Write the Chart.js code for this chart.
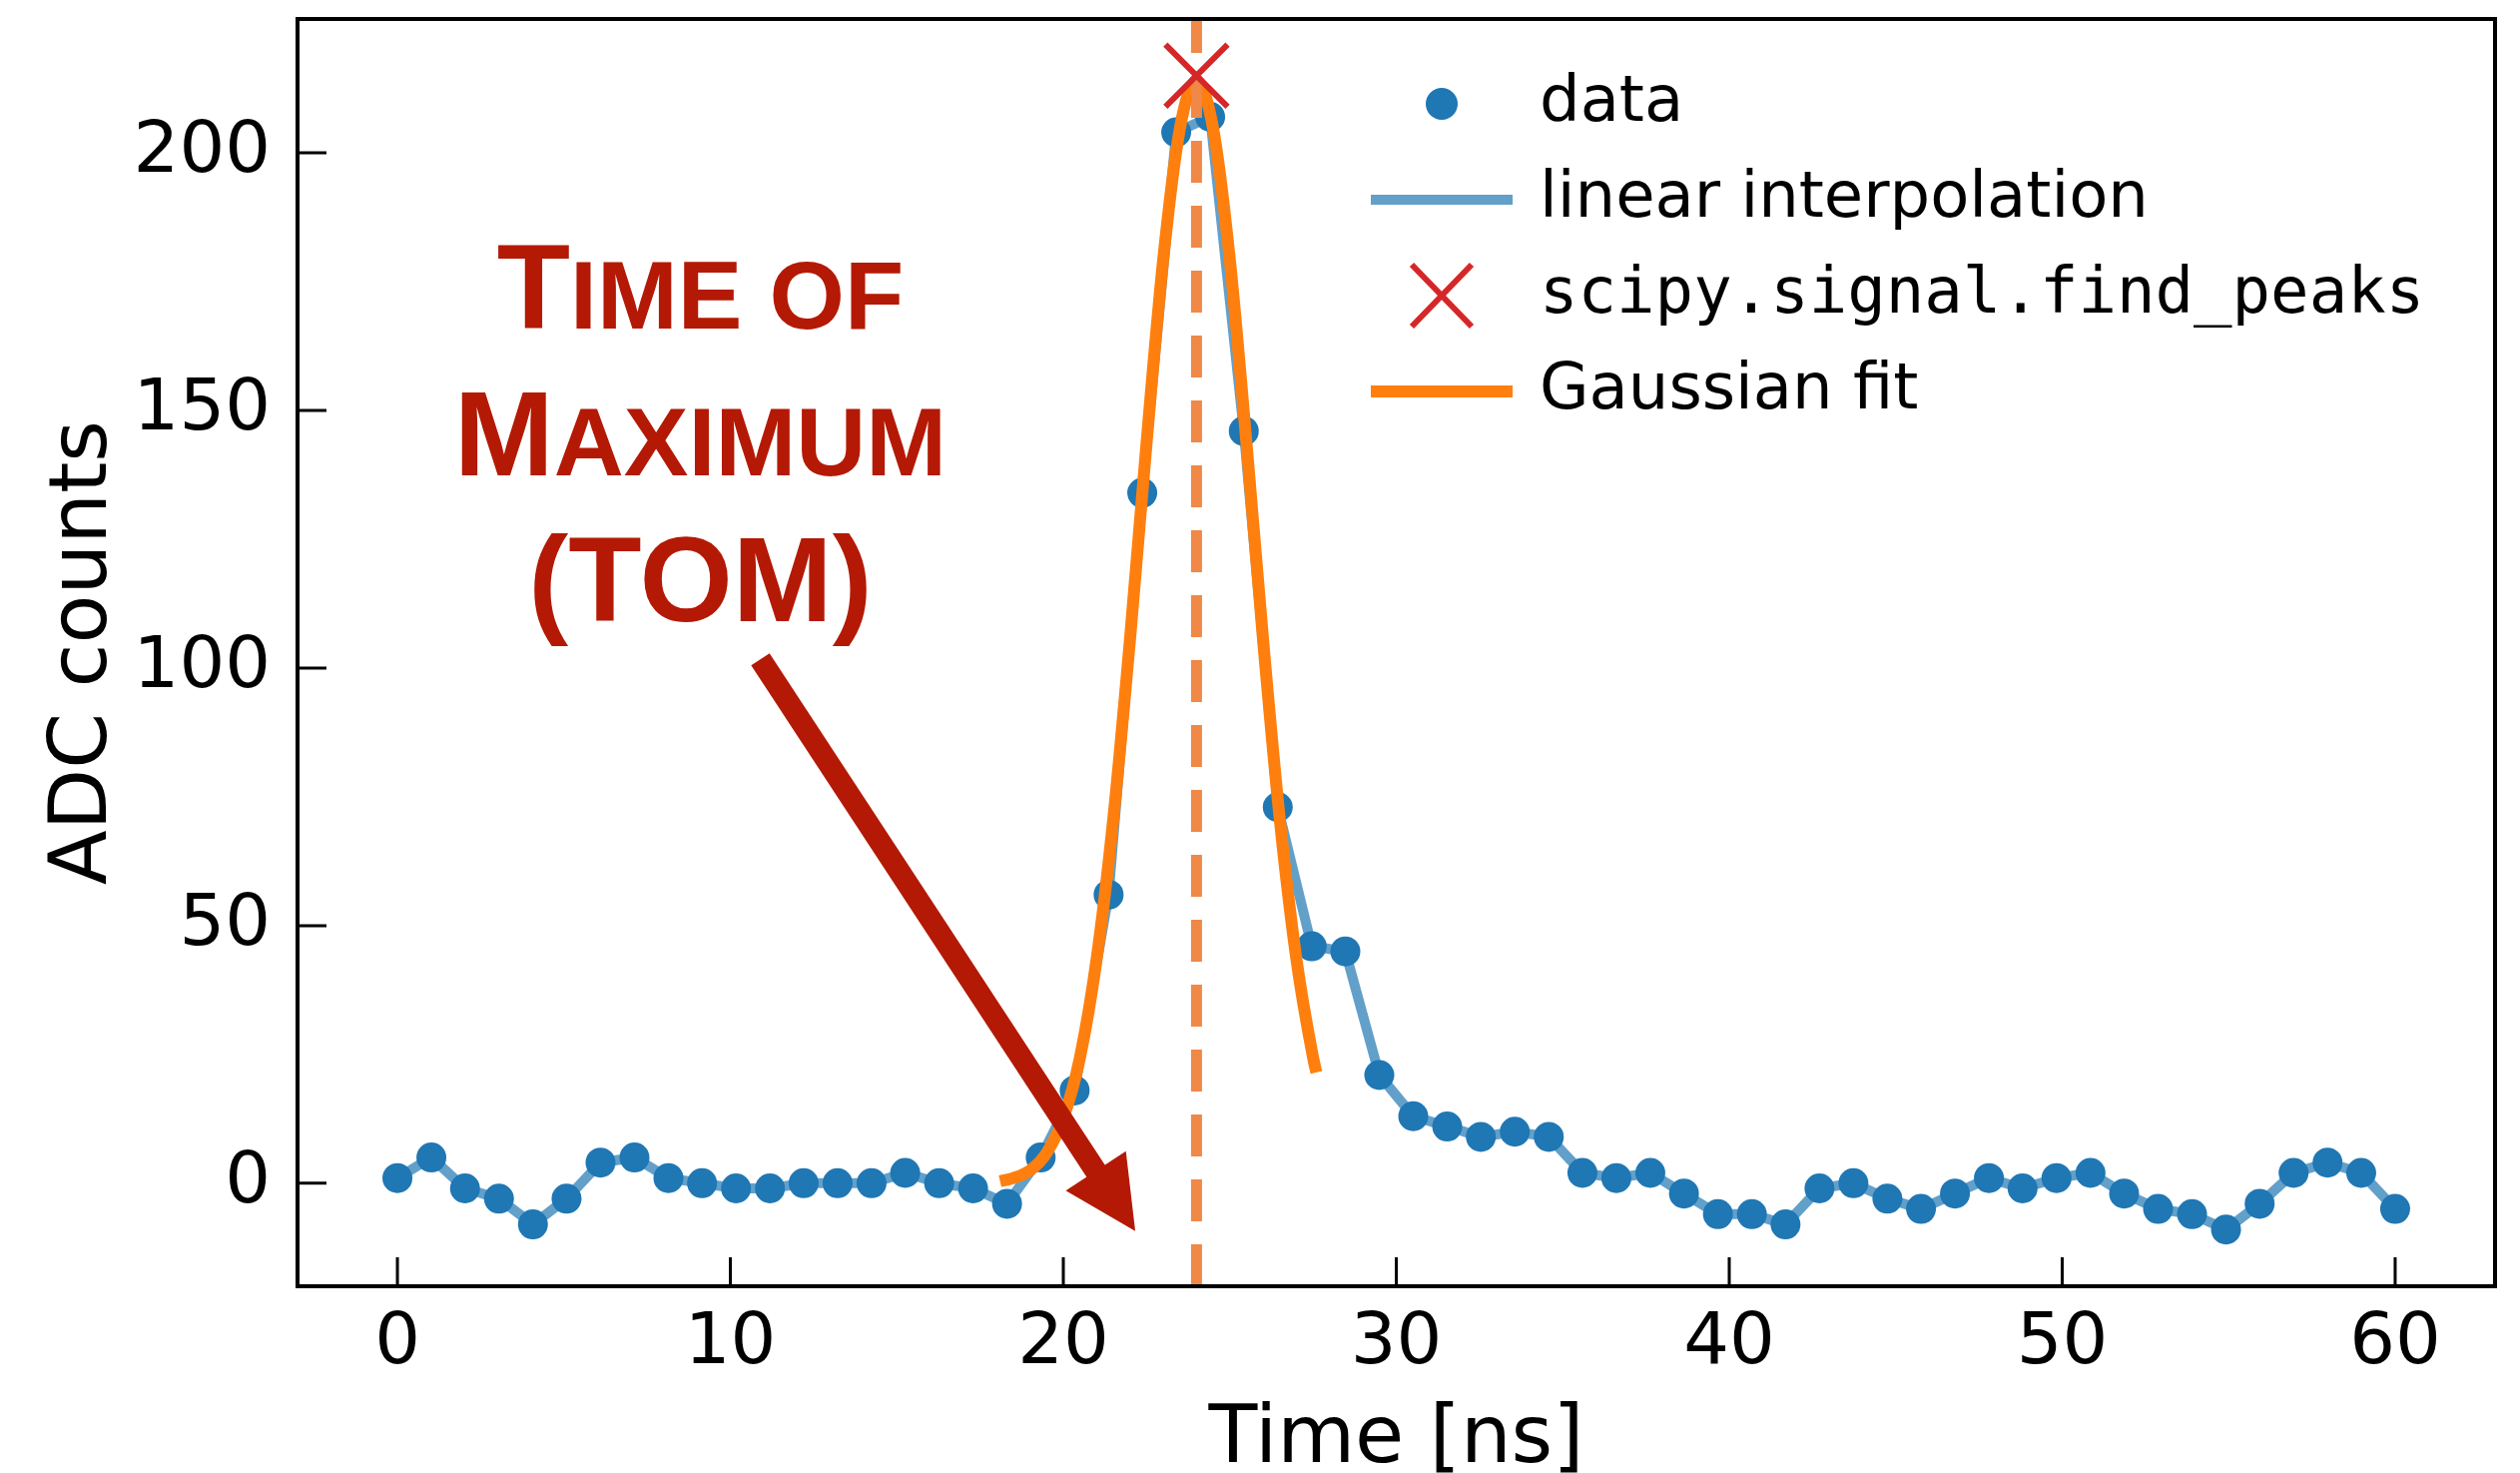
<!DOCTYPE html>
<html>
<head>
<meta charset="utf-8">
<title>Time of Maximum</title>
<script src="https://cdn.jsdelivr.net/npm/chart.js@4.4.1/dist/chart.umd.min.js"></script>
<style>
  html, body { margin: 0; padding: 0; background: #fff; }
  #wrap { width: 2524px; height: 1475px; position: relative; }
</style>
</head>
<body>
<div id="wrap"><canvas id="tomChart"></canvas></div>
<script>
// waveform samples (60 samples over 60 ns)
const sampleTimes = [0, 1.02, 2.03, 3.05, 4.07, 5.08, 6.10, 7.12, 8.14, 9.15,
  10.17, 11.19, 12.20, 13.22, 14.24, 15.25, 16.27, 17.29, 18.31, 19.32,
  20.34, 21.36, 22.37, 23.39, 24.41, 25.42, 26.44, 27.46, 28.47, 29.49,
  30.51, 31.53, 32.54, 33.56, 34.58, 35.59, 36.61, 37.63, 38.64, 39.66,
  40.68, 41.69, 42.71, 43.73, 44.75, 45.76, 46.78, 47.80, 48.81, 49.83,
  50.85, 51.86, 52.88, 53.90, 54.92, 55.93, 56.95, 57.97, 58.98, 60];
const adcCounts = [1, 5, -1, -3, -8, -3, 4, 5, 1, 0,
  -1, -1, 0, 0, 0, 2, 0, -1, -4, 5,
  18, 56, 134, 204, 207, 146, 73, 46, 45, 21,
  13, 11, 9, 10, 9, 2, 1, 2, -2, -6,
  -6, -8, -1, 0, -3, -5, -2, 1, -1, 1,
  2, -2, -5, -6, -9, -4, 2, 4, 2, -5];

// gaussian fit curve around the pulse
const fitTimes = [18.1, 18.5, 19.0, 19.5, 20.0, 20.5, 21.0, 21.5, 22.0, 22.5, 23.0,
  23.5, 24.0, 24.5, 25.0, 25.5, 26.0, 26.5, 27.0, 27.5, 27.6];
const fitCounts = [0.4, 1.0, 2.5, 5.9, 12.6, 24.4, 43.5, 70.7, 105.4, 143.7, 179.3,
  204.7, 214.0, 204.7, 179.3, 143.7, 105.4, 70.7, 43.5, 24.4, 21.5];

// peak found by find_peaks
const peakTime = 24.0;
const peakCounts = 215;

const xMin = -3, xMax = 63;
const yMin = -20, yMax = 226;
const xTickValues = [0, 10, 20, 30, 40, 50, 60];
const yTickValues = [0, 50, 100, 150, 200];

const legendLabels = ['data', 'linear interpolation', 'scipy.signal.find_peaks', 'Gaussian fit'];

// annotation text, each line split in [text, isCapital] runs
const noteLines = [
  [['T', true], ['IME OF', false]],
  [['M', true], ['AXIMUM', false]],
  [['(TOM)', true]]
];
const noteAnchorX = 9.1;
const noteBaselines = [165.9, 137.4, 109.1];
const arrowFrom = [10.9, 101.7];
const arrowTo = [22.16, -9.3];

const blue = '#1f77b4';
const blueLine = 'rgba(31,119,180,0.7)';
const orange = '#ff7f0e';
const tomDash = 'rgb(240,136,72)';
const red = '#d62728';
const noteRed = '#b41905';

const toPoints = (xs, ys) => xs.map((x, i) => ({ x: x, y: ys[i] }));

// frame + inward tick marks
const frameTicks = {
  id: 'frameTicks',
  afterDatasetsDraw(chart) {
    const { ctx, chartArea: a, scales } = chart;
    ctx.save();
    ctx.strokeStyle = '#000';
    ctx.lineWidth = 3;
    ctx.beginPath();
    xTickValues.forEach((v) => {
      const px = scales.x.getPixelForValue(v);
      ctx.moveTo(px, a.bottom);
      ctx.lineTo(px, a.bottom - 29);
    });
    yTickValues.forEach((v) => {
      const py = scales.y.getPixelForValue(v);
      ctx.moveTo(a.left, py);
      ctx.lineTo(a.left + 29, py);
    });
    ctx.stroke();
    ctx.lineWidth = 4;
    ctx.strokeRect(a.left, a.top, a.right - a.left, a.bottom - a.top);
    ctx.restore();
  }
};

// legend in the upper right, one entry per row
const sideLegend = {
  id: 'sideLegend',
  afterDraw(chart) {
    const { ctx, chartArea: a } = chart;
    const hx = a.right - 1055;
    const tx = a.right - 957;
    const rowY = (i) => a.top + 85 + i * 96;
    ctx.save();

    ctx.fillStyle = blue;
    ctx.beginPath();
    ctx.arc(hx, rowY(0), 16, 0, Math.PI * 2);
    ctx.fill();

    ctx.lineCap = 'butt';
    ctx.strokeStyle = blueLine;
    ctx.lineWidth = 10;
    ctx.beginPath();
    ctx.moveTo(hx - 71, rowY(1));
    ctx.lineTo(hx + 71, rowY(1));
    ctx.stroke();

    ctx.strokeStyle = red;
    ctx.lineWidth = 6;
    ctx.beginPath();
    ctx.moveTo(hx - 30, rowY(2) - 31);
    ctx.lineTo(hx + 30, rowY(2) + 31);
    ctx.moveTo(hx + 30, rowY(2) - 31);
    ctx.lineTo(hx - 30, rowY(2) + 31);
    ctx.stroke();

    ctx.strokeStyle = orange;
    ctx.lineWidth = 12;
    ctx.beginPath();
    ctx.moveTo(hx - 71, rowY(3));
    ctx.lineTo(hx + 71, rowY(3));
    ctx.stroke();

    ctx.fillStyle = '#000';
    ctx.textBaseline = 'middle';
    ctx.textAlign = 'left';
    legendLabels.forEach((txt, i) => {
      ctx.font = i === 2 ? '64px "DejaVu Sans Mono"' : '64px "DejaVu Sans"';
      ctx.fillText(txt, tx, rowY(i));
    });
    ctx.restore();
  }
};

// small-caps note and arrow pointing at the pulse
const tomNote = {
  id: 'tomNote',
  afterDraw(chart) {
    const { ctx, scales } = chart;
    const xs = scales.x, ys = scales.y;
    ctx.save();
    ctx.fillStyle = noteRed;
    ctx.textBaseline = 'alphabetic';
    ctx.textAlign = 'left';
    const cx = xs.getPixelForValue(noteAnchorX);
    noteLines.forEach((runs, i) => {
      const fonts = runs.map((r) => 'bold ' + (r[1] ? 120 : 97) + 'px "Liberation Sans"');
      let total = 0;
      const widths = runs.map((r, k) => {
        ctx.font = fonts[k];
        const w = ctx.measureText(r[0]).width;
        total += w;
        return w;
      });
      let x = cx - total / 2;
      const y = ys.getPixelForValue(noteBaselines[i]);
      runs.forEach((r, k) => {
        ctx.font = fonts[k];
        ctx.fillText(r[0], x, y);
        x += widths[k];
      });
    });

    const x0 = xs.getPixelForValue(arrowFrom[0]), y0 = ys.getPixelForValue(arrowFrom[1]);
    const x1 = xs.getPixelForValue(arrowTo[0]), y1 = ys.getPixelForValue(arrowTo[1]);
    const ang = Math.atan2(y1 - y0, x1 - x0);
    const c = Math.cos(ang), s = Math.sin(ang);
    const headLen = 72, headHalf = 36;
    const bx = x1 - headLen * c, by = y1 - headLen * s;
    ctx.strokeStyle = noteRed;
    ctx.lineWidth = 22;
    ctx.lineCap = 'butt';
    ctx.beginPath();
    ctx.moveTo(x0, y0);
    ctx.lineTo(bx + 4 * c, by + 4 * s);
    ctx.stroke();
    ctx.beginPath();
    ctx.moveTo(x1, y1);
    ctx.lineTo(bx - headHalf * s, by + headHalf * c);
    ctx.lineTo(bx + headHalf * s, by - headHalf * c);
    ctx.closePath();
    ctx.fill();
    ctx.restore();
  }
};

const ctx = document.getElementById('tomChart').getContext('2d');
const tomChart = new Chart(ctx, {
  type: 'scatter',
  data: {
    datasets: [
      {
        label: 'scipy.signal.find_peaks',
        data: [{ x: peakTime, y: peakCounts }],
        pointStyle: 'crossRot',
        pointRadius: 44,
        pointBorderWidth: 6,
        borderColor: red,
        backgroundColor: red,
        showLine: false,
        order: 0
      },
      {
        label: 'TOM',
        data: [{ x: peakTime, y: yMin }, { x: peakTime, y: yMax }],
        showLine: true,
        borderColor: tomDash,
        borderWidth: 11,
        borderDash: [42, 23],
        pointRadius: 0,
        order: 1
      },
      {
        label: 'Gaussian fit',
        data: toPoints(fitTimes, fitCounts),
        showLine: true,
        borderColor: orange,
        borderWidth: 12,
        borderJoinStyle: 'round',
        cubicInterpolationMode: 'monotone',
        pointRadius: 0,
        order: 2
      },
      {
        label: 'data',
        data: toPoints(sampleTimes, adcCounts),
        showLine: false,
        pointRadius: 15,
        pointBorderWidth: 0,
        backgroundColor: blue,
        borderColor: blue,
        order: 3
      },
      {
        label: 'linear interpolation',
        data: toPoints(sampleTimes, adcCounts),
        showLine: true,
        borderColor: blueLine,
        borderWidth: 10,
        borderJoinStyle: 'round',
        borderCapStyle: 'round',
        pointRadius: 0,
        order: 4
      }
    ]
  },
  options: {
    responsive: true,
    maintainAspectRatio: false,
    animation: false,
    devicePixelRatio: 1,
    layout: { autoPadding: false, padding: { left: 0, top: 19, right: 25, bottom: 0 } },
    plugins: {
      legend: { display: false },
      tooltip: { enabled: false }
    },
    scales: {
      x: {
        type: 'linear',
        min: xMin,
        max: xMax,
        afterBuildTicks: (scale) => { scale.ticks = xTickValues.map((v) => ({ value: v })); },
        afterFit: (scale) => {
          scale.height = 187;
          scale.paddingLeft = 0;
          scale.paddingRight = 0;
        },
        grid: { display: false, drawTicks: false },
        border: { display: false },
        ticks: {
          color: '#000',
          padding: 15,
          maxRotation: 0,
          font: { family: 'DejaVu Sans', size: 72 }
        },
        title: {
          display: true,
          text: 'Time [ns]',
          color: '#000',
          padding: 0,
          font: { family: 'DejaVu Sans', size: 80, lineHeight: 0.8 }
        }
      },
      y: {
        type: 'linear',
        min: yMin,
        max: yMax,
        afterBuildTicks: (scale) => { scale.ticks = yTickValues.map((v) => ({ value: v })); },
        afterFit: (scale) => {
          scale.width = 298;
          scale.paddingTop = 0;
          scale.paddingBottom = 0;
        },
        grid: { display: false, drawTicks: false },
        border: { display: false },
        ticks: {
          color: '#000',
          padding: 27,
          font: { family: 'DejaVu Sans', size: 72 }
        },
        title: {
          display: true,
          text: 'ADC counts',
          color: '#000',
          padding: { top: 53, bottom: 0 },
          font: { family: 'DejaVu Sans', size: 80, lineHeight: 0.8 }
        }
      }
    }
  },
  plugins: [frameTicks, sideLegend, tomNote]
});
</script>
</body>
</html>
